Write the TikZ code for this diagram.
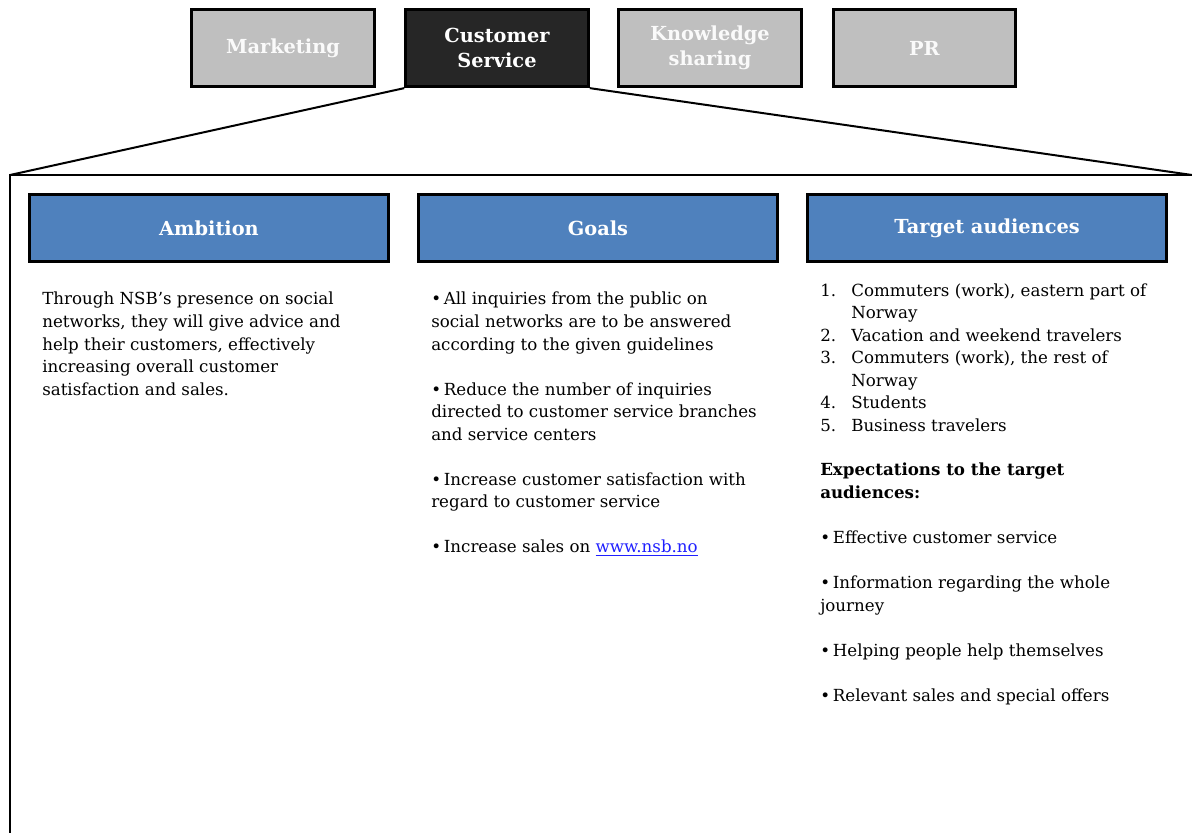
\documentclass[tikz,border=0pt]{standalone}
\usepackage{fontspec}
\setmainfont{DejaVu Serif}
\usepackage{xcolor}
\usetikzlibrary{positioning,calc}
\definecolor{boxgray}{HTML}{BFBFBF}
\definecolor{boxdark}{HTML}{262626}
\definecolor{headblue}{HTML}{4F81BD}
\definecolor{linkblue}{HTML}{2020FF}
\newcommand{\bodyfont}{\fontsize{12.5}{16.9}\selectfont}
\newcommand{\boxfont}{\fontsize{14.5}{18.75}\selectfont\bfseries}

\begin{document}
\begin{tikzpicture}[x=0.75pt,y=-0.75pt,
    tab/.style={draw=black,line width=2.2pt,fill=boxgray,text=white!96!gray,font=\boxfont,
        minimum width=137pt,minimum height=58pt,align=center,inner sep=0pt},
    head/.style={draw=black,line width=2.2pt,fill=headblue,text=white,font=\boxfont,
        minimum width=269pt,minimum height=50pt,inner sep=0pt},
    body/.style={anchor=north west,align=left,inner sep=0pt,font=\bodyfont},
    frame/.style={line width=1.5pt}]
    \useasboundingbox (0,0) rectangle (1192,832);

    \node[tab] (mkt) at (283,48) {Marketing};
    \node[tab,fill=boxdark,text=white] (cs) at (497,48) {Customer\\Service};
    \node[tab] (know) at (710,48) {Knowledge\\sharing};
    \node[tab] (pr) at (924.5,48) {PR};

    \coordinate (fr-tl) at (10,175);
    \coordinate (fr-tr) at (1192,175);
    \coordinate (fr-bl) at (10,834);
    \draw[frame] (fr-bl) -- (fr-tl) -- (fr-tr);
    \draw[frame] (cs.south west) -- (fr-tl);
    \draw[frame] (cs.south east) -- (fr-tr);

    \node[head] (amb) at (209,228) {Ambition};
    \node[head] (goals) at (598,228) {Goals};
    \node[head] (aud) at (987,228) {Target audiences};

    \node[body] (amb-text) at (42,292) {Through NSB’s presence on social\\
        networks, they will give advice and\\
        help their customers, effectively\\
        increasing overall customer\\
        satisfaction and sales.};

    \node[body] (goals-text) at (431,292) {\textbullet\,All inquiries from the public on\\
        social networks are to be answered\\
        according to the given guidelines\\[16.9pt]
        \textbullet\,Reduce the number of inquiries\\
        directed to customer service branches\\
        and service centers\\[16.9pt]
        \textbullet\,Increase customer satisfaction with\\
        regard to customer service\\[16.9pt]
        \textbullet\,Increase sales on \textcolor{linkblue}{\underline{www.nsb.no}}};

    \node[body] (aud-list) at (820,280) {\begin{tabular}{@{}p{23.25pt}@{}l@{}}
        1. & Commuters (work), eastern part of\\
           & Norway\\
        2. & Vacation and weekend travelers\\
        3. & Commuters (work), the rest of\\
           & Norway\\
        4. & Students\\
        5. & Business travelers
        \end{tabular}};

    \node[body] (expect) at (820,463) {\textbf{Expectations to the target}\\
        \textbf{audiences:}\\[16.9pt]
        \textbullet\,Effective customer service\\[16.9pt]
        \textbullet\,Information regarding the whole\\
        journey\\[16.9pt]
        \textbullet\,Helping people help themselves\\[16.9pt]
        \textbullet\,Relevant sales and special offers};
\end{tikzpicture}
\end{document}
